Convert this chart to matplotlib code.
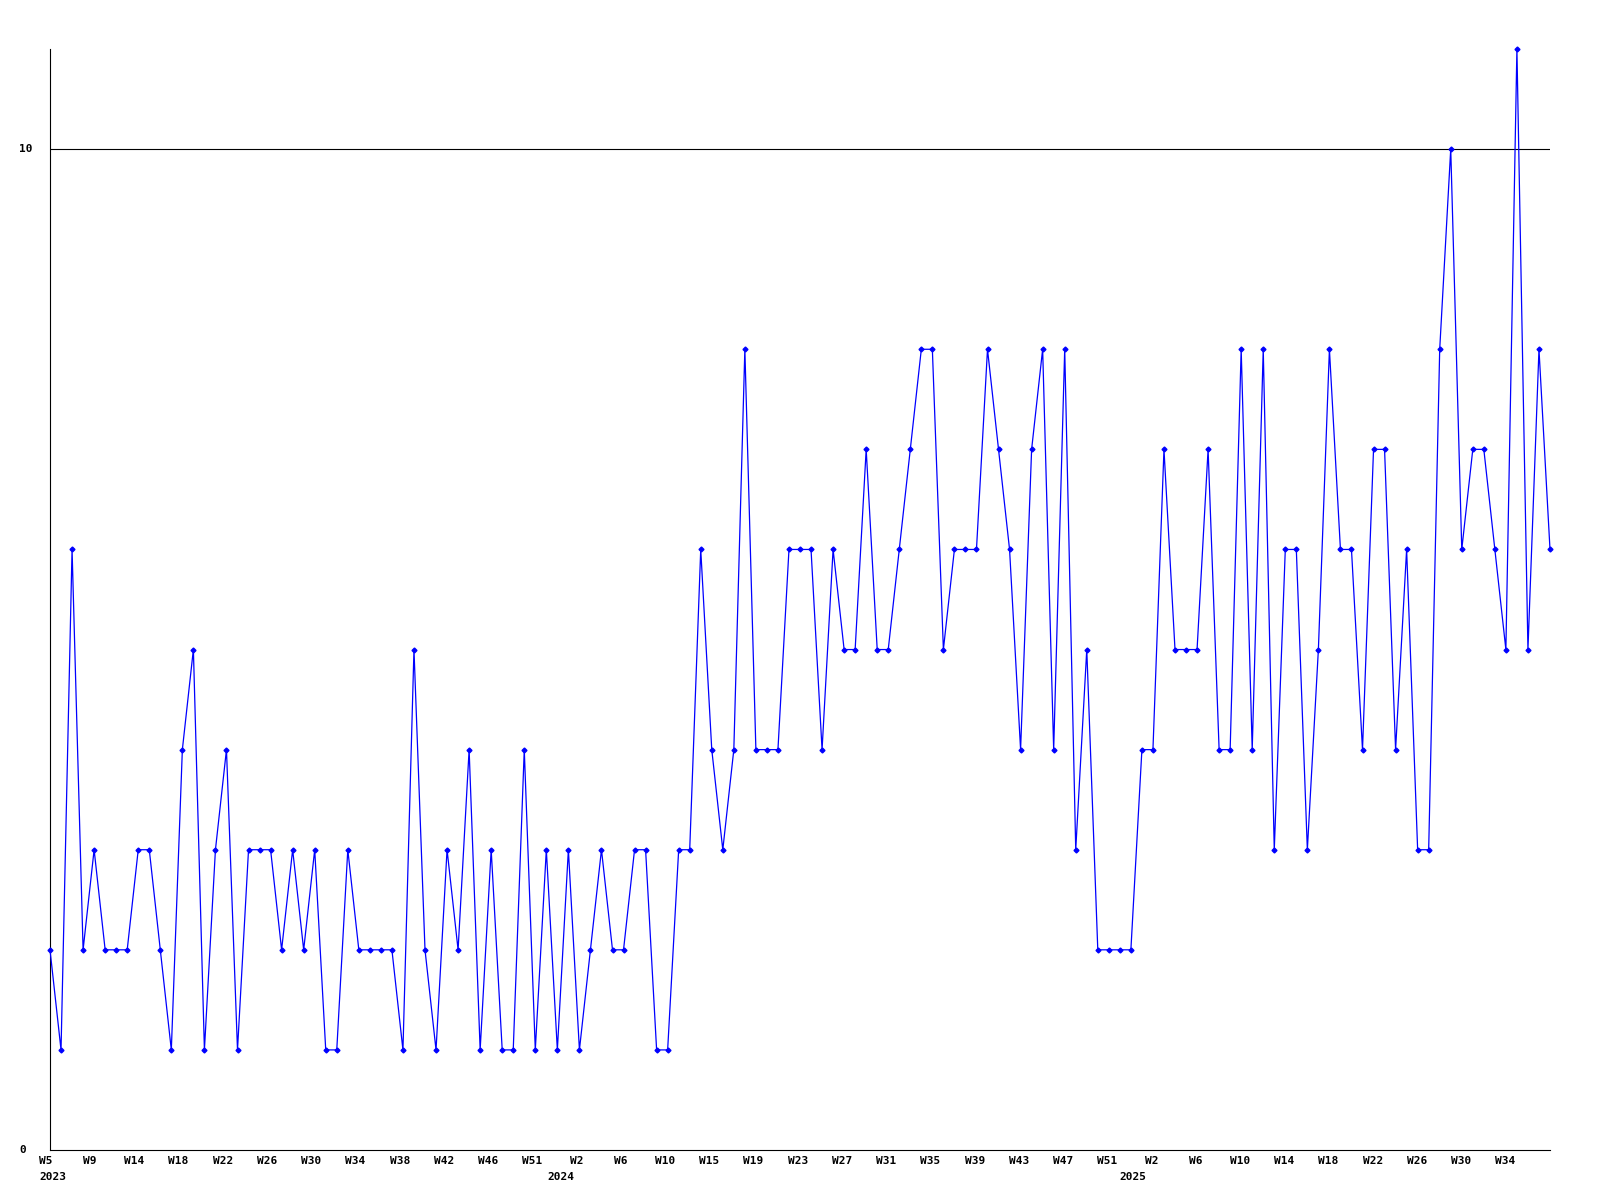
import matplotlib
matplotlib.use("Agg")
import matplotlib.pyplot as plt
import numpy as np

# valores semanais (2023 W5 ate 2025 W37)
valores = [2, 1, 6, 2, 3, 2, 2, 2, 3, 3,
           2, 1, 4, 5, 1, 3, 4, 1, 3, 3,
           3, 2, 3, 2, 3, 1, 1, 3, 2, 2,
           2, 2, 1, 5, 2, 1, 3, 2, 4, 1,
           3, 1, 1, 4, 1, 3, 1, 3, 1, 2,
           3, 2, 2, 3, 3, 1, 1, 3, 3, 6,
           4, 3, 4, 8, 4, 4, 4, 6, 6, 6,
           4, 6, 5, 5, 7, 5, 5, 6, 7, 8,
           8, 5, 6, 6, 6, 8, 7, 6, 4, 7,
           8, 4, 8, 3, 5, 2, 2, 2, 2, 4,
           4, 7, 5, 5, 5, 7, 4, 4, 8, 4,
           8, 3, 6, 6, 3, 5, 8, 6, 6, 4,
           7, 7, 4, 6, 3, 3, 8, 10, 6, 7,
           7, 6, 5, 11, 5, 8, 6]

semanas = ["W5", "W9", "W14", "W18", "W22", "W26", "W30", "W34", "W38", "W42",
           "W46", "W51", "W2", "W6", "W10", "W15", "W19", "W23", "W27", "W31",
           "W35", "W39", "W43", "W47", "W51", "W2", "W6", "W10", "W14", "W18",
           "W22", "W26", "W30", "W34"]
anos = ["2023", "2024", "2025"]
y_rotulos = [0, 10]

fonte = dict(fontfamily="DejaVu Sans Mono", fontweight="bold", fontsize=8, color="black")

fig = plt.figure(figsize=(16, 12), dpi=100)
ax = fig.add_axes([0.03125, 0.041667, 0.9375, 0.9175])

x = np.arange(len(valores))
ax.plot(x, valores, color="#0000ff", lw=0.9, marker="D", ms=2.5, clip_on=False, zorder=3)
ax.axhline(10, color="black", lw=0.8, zorder=2)

ax.set_xlim(0, len(valores) - 1)
ax.set_ylim(0, 11)
ax.spines["top"].set_visible(False)
ax.spines["right"].set_visible(False)
for s in ["left", "bottom"]:
    ax.spines[s].set_linewidth(0.8)
    ax.spines[s].set_color("black")
ax.set_xticks([])
ax.set_yticks([])

# rotulos das semanas, de 4 em 4 pontos aprox.
pos_semanas = np.arange(len(semanas)) * 4.01 - 0.37
for p, s in zip(pos_semanas, semanas):
    ax.annotate(s, xy=(p, 0), xycoords=("data", "axes fraction"), xytext=(0, -8),
                textcoords="offset points", ha="center", va="center", annotation_clip=False, **fonte)

pos_anos = [0.27, 46.3, 98.2]
for p, a in zip(pos_anos, anos):
    ax.annotate(a, xy=(p, 0), xycoords=("data", "axes fraction"), xytext=(0, -19.4),
                textcoords="offset points", ha="center", va="center", annotation_clip=False, **fonte)

for v in y_rotulos:
    ax.annotate(str(v), xy=(0, v), xycoords=("axes fraction", "data"), xytext=(-22.3, 0),
                textcoords="offset points", ha="left", va="center", annotation_clip=False, **fonte)

fig.savefig("out.png", dpi=100)
